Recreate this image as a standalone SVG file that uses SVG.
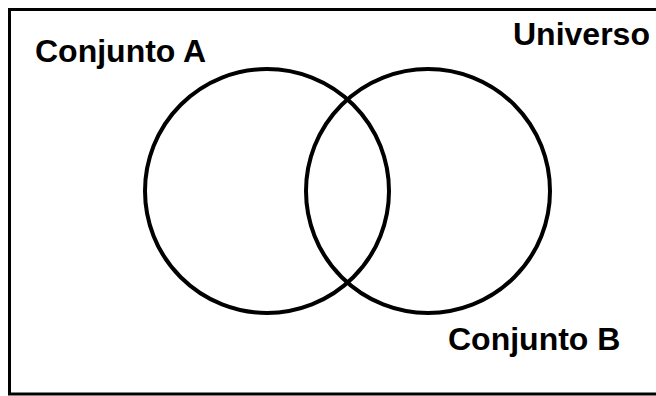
<svg xmlns="http://www.w3.org/2000/svg" width="656" height="396" viewBox="0 0 656 396">
  <style>
    .set { fill: none; stroke: #000; stroke-width: 4; }
    .label { font-family: "Liberation Sans", Arial, sans-serif; font-weight: bold; font-size: 32px; fill: #000; }
  </style>
  <rect x="0" y="0" width="656" height="396" fill="#fff"/>
  <!-- universe frame -->
  <g id="universo">
    <rect x="9.5" y="9.5" width="660" height="384.5" fill="none" stroke="#000" stroke-width="3"/>
    <text class="label" x="513" y="45">Universo</text>
  </g>
  <g id="conjunto-a">
    <circle class="set" cx="267" cy="191" r="122"/>
    <text class="label" x="35" y="62">Conjunto A</text>
  </g>
  <g id="conjunto-b">
    <circle class="set" cx="428" cy="191" r="122"/>
    <text class="label" x="448" y="350">Conjunto B</text>
  </g>
  <g id="connectors"/>
</svg>
